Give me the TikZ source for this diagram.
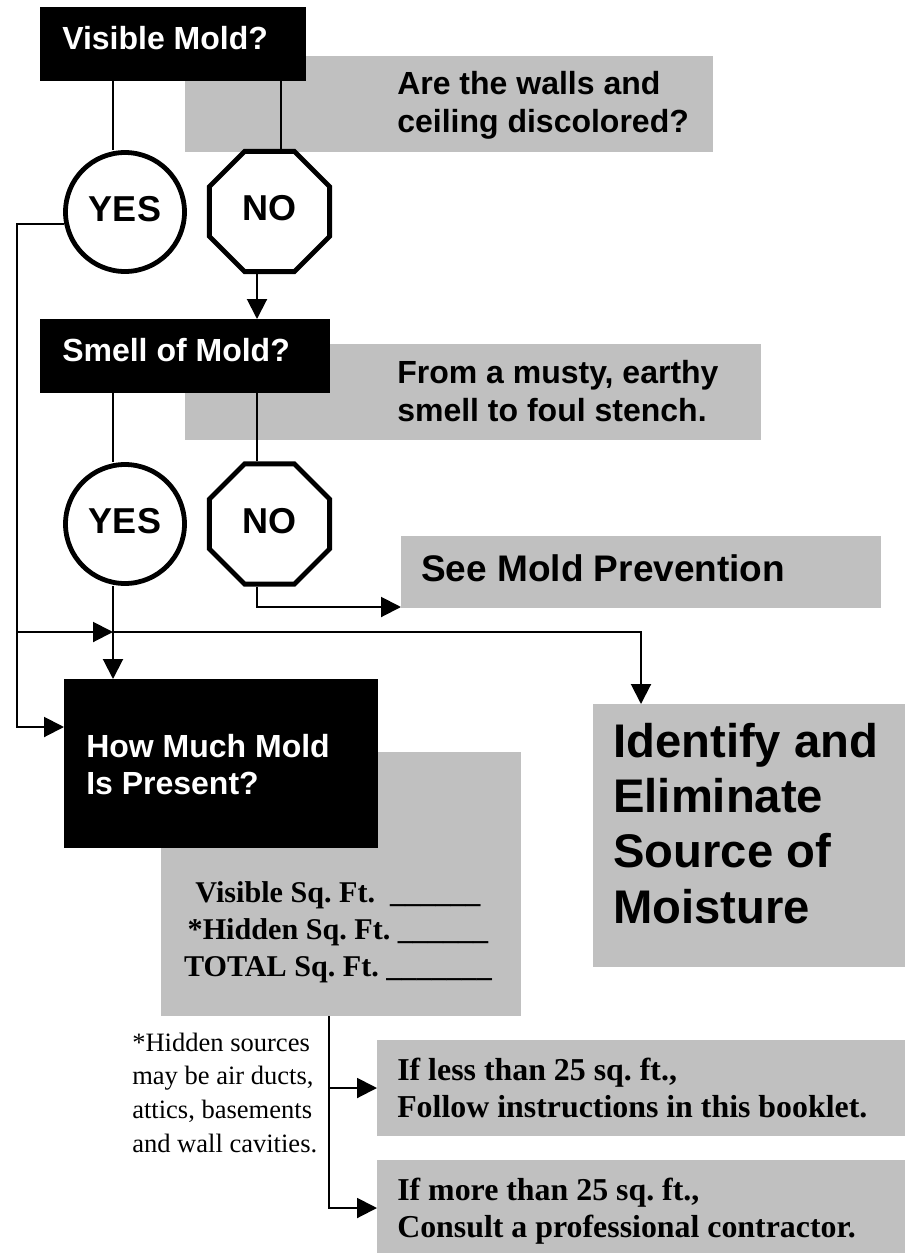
\documentclass[tikz,border=0pt]{standalone}
\usepackage{fontspec}
\setmainfont{Liberation Serif}
\newfontfamily\sansf{Liberation Sans}
\usetikzlibrary{arrows.meta,shapes.geometric,fit,calc}
\definecolor{boxgray}{RGB}{192,192,192}
\frenchspacing
\tikzset{
  graybox/.style={fill=boxgray, inner sep=0pt, outer sep=0pt},
  blackbox/.style={fill=black, inner sep=0pt, outer sep=0pt},
  conn/.style={line width=1.5pt},
  arr/.style={-{Triangle[length=15pt,width=15pt]}},
  yescirc/.style={circle, draw, line width=3.6pt, fill=white, minimum size=89.25pt, inner sep=0pt, text depth=5pt,
    font=\sansf\bfseries\fontsize{27}{30}\selectfont},
  nooct/.style={regular polygon, regular polygon sides=8, draw, line width=3.6pt, fill=white, minimum size=97.6pt, inner sep=0pt, text depth=5pt,
    font=\sansf\bfseries\fontsize{27}{30}\selectfont},
  htext/.style={anchor=base west, inner sep=0pt, text=white, font=\sansf\bfseries\fontsize{24}{27.75}\selectfont},
  btext/.style={anchor=base west, inner sep=0pt, text=black, font=\sansf\bfseries\fontsize{24}{28.5}\selectfont},
  ttext/.style={inner sep=0pt, text=black}
}
\begin{document}
\begin{tikzpicture}[x=0.75pt,y=-0.75pt]
\useasboundingbox (0,0) rectangle (905,1253);
% gray boxes
\node[graybox, fit={(185,56) (713,152)}] (walls) {};
\node[graybox, fit={(185,344) (761,440)}] (musty) {};
\node[graybox, fit={(401,536) (881,608)}] (see) {};
\node[graybox, fit={(161,752) (521,1016)}] (cnt) {};
\node[graybox, fit={(593,704) (905,967)}] (ident) {};
\node[graybox, fit={(377,1040) (905,1136)}] (less) {};
\node[graybox, fit={(377,1160) (905,1256)}] (more) {};
% black boxes
\node[blackbox, fit={(40,7) (306,81)}] (vis) {};
\node[blackbox, fit={(40,319) (330,393)}] (smell) {};
\node[blackbox, fit={(64,679) (378,848)}] (how) {};
% decisions
\node[yescirc] (yes1) at (125,212) {YES};
\node[nooct] (no1) at (269.5,211.5) {NO};
\node[yescirc] (yes2) at (125,524) {YES};
\node[nooct] (no2) at (269.5,524) {NO};
% helper coordinates
\coordinate (y1in) at ($(yes1.north)+(-12,0)$);
\coordinate (n1in) at ($(no1.north)+(11.5,0)$);
\coordinate (n1out) at ($(no1.south)+(-12.5,0)$);
\coordinate (y2in) at ($(yes2.north)+(-12,0)$);
\coordinate (y2out) at ($(yes2.south)+(-12,0)$);
\coordinate (n2in) at ($(no2.north)+(-12.5,0)$);
\coordinate (n2out) at ($(no2.south)+(-12.5,0)$);
\coordinate (seein) at ($(see.south west)+(0,-1)$);
\coordinate (cL2) at (17,632);
\coordinate (cL3) at (17,727);
\coordinate (cR) at (641,632);
\coordinate (cb) at ($(cnt.south)+(-12,0)$);
% connectors
\draw[conn] (vis.south -| y1in) -- (y1in);
\draw[conn] (vis.south -| n1in) -- (n1in);
\draw[conn,arr] (n1out) -- (n1out |- smell.north);
\draw[conn] (smell.south -| y2in) -- (y2in);
\draw[conn] (smell.south -| n2in) -- (n2in);
\draw[conn,arr] (n2out) |- (seein);
\draw[conn,arr] (yes1.191) -| (cL3) -- (how.west |- cL3);
\draw[conn,arr] (cL2) -- (y2out |- cL2);
\draw[conn,arr] (y2out |- cL2) -| (cR |- ident.north);
\draw[conn,arr] (y2out) -- (y2out |- how.north);
\draw[conn,arr] (cb) |- (less.west);
\draw[conn,arr] (cb) |- (more.west);
% texts
\node[htext] (tvis) at (62,49) {Visible Mold?};
\node[btext] (twalls) at (397,94) {\vtop{\hbox{Are the walls and}\hbox{ceiling discolored?}}};
\node[htext] (tsmell) at (62,361) {Smell of Mold?};
\node[btext] (tmusty) at (397,383) {\vtop{\hbox{From a musty, earthy}\hbox{smell to foul stench.}}};
\node[btext, font=\sansf\bfseries\fontsize{27.75}{30}\selectfont] (tsee) at (421,581) {See Mold Prevention};
\node[htext] (thow) at (86,757) {\vtop{\hbox{How Much Mold}\hbox{Is Present?}}};
\node[btext, font=\sansf\bfseries\fontsize{35.4}{41.5}\selectfont] (tident) at (613,757)
  {\vtop{\hbox{Identify and}\hbox{Eliminate}\hbox{Source of}\hbox{Moisture}}};
\node[ttext, anchor=base, font=\bfseries\fontsize{22.6}{27.75}\selectfont] (tsq) at (338,902)
  {\vtop{\hbox to 300pt{\hss Visible Sq. Ft.\ \ \_\_\_\_\_\_\hss}\hbox to 300pt{\hss *Hidden Sq. Ft. \_\_\_\_\_\_\hss}\hbox to 300pt{\hss TOTAL Sq. Ft. \_\_\_\_\_\_\_\hss}}};
\node[ttext, anchor=base west, font=\fontsize{19.9}{25.3}\selectfont] (tnote) at (132,1051)
  {\vtop{\hbox{*Hidden sources}\hbox{may be air ducts,}\hbox{attics, basements}\hbox{and wall cavities.}}};
\node[ttext, anchor=base west, font=\bfseries\fontsize{23.9}{27.75}\selectfont] (tless) at (397,1080)
  {\vtop{\hbox{If less than 25 sq. ft.,}\hbox{Follow instructions in this booklet.}}};
\node[ttext, anchor=base west, font=\bfseries\fontsize{23.9}{27.75}\selectfont] (tmore) at (397,1200)
  {\vtop{\hbox{If more than 25 sq. ft.,}\hbox{Consult a professional contractor.}}};
\end{tikzpicture}
\end{document}
